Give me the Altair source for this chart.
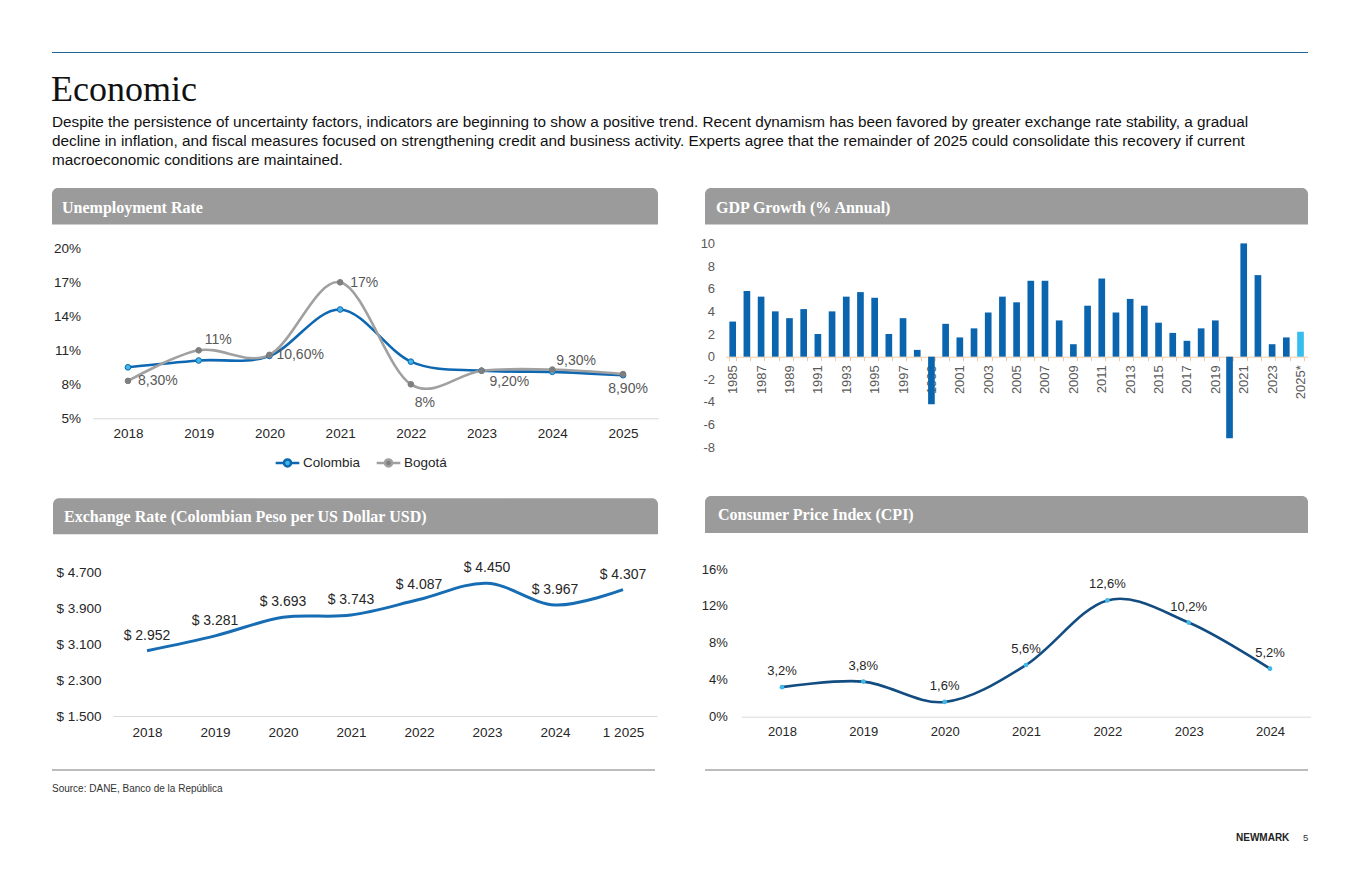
import altair as alt
import pandas as pd

# ---------------- data ----------------
unemp_years = ["2018", "2019", "2020", "2021", "2022", "2023", "2024", "2025"]
unemp_colombia = [9.5, 10.1, 10.5, 14.6, 10.0, 9.2, 9.1, 8.8]
unemp_bogota = [8.3, 11.0, 10.6, 17.0, 8.0, 9.2, 9.3, 8.9]
unemp_bogota_labels = ["8,30%", "11%", "10,60%", "17%", "8%", "9,20%", "9,30%", "8,90%"]
unemp_series = ["Colombia", "Bogotá"]
unemp_ticks = [5, 8, 11, 14, 17, 20]

gdp_years = [
    "1985", "1986", "1987", "1988", "1989", "1990", "1991", "1992", "1993", "1994",
    "1995", "1996", "1997", "1998", "1999", "2000", "2001", "2002", "2003", "2004",
    "2005", "2006", "2007", "2008", "2009", "2010", "2011", "2012", "2013", "2014",
    "2015", "2016", "2017", "2018", "2019", "2020", "2021", "2022", "2023", "2024",
    "2025*",
]
gdp_growth = [
    3.1, 5.8, 5.3, 4.0, 3.4, 4.2, 2.0, 4.0, 5.3, 5.7,
    5.2, 2.0, 3.4, 0.6, -4.2, 2.9, 1.7, 2.5, 3.9, 5.3,
    4.8, 6.7, 6.7, 3.2, 1.1, 4.5, 6.9, 3.9, 5.1, 4.5,
    3.0, 2.1, 1.4, 2.5, 3.2, -7.2, 10.0, 7.2, 1.1, 1.7,
    2.2,
]
gdp_ticks = [-8, -6, -4, -2, 0, 2, 4, 6, 8, 10]

fx_periods = ["2018", "2019", "2020", "2021", "2022", "2023", "2024", "1 2025"]
fx_rate = [2952, 3281, 3693, 3743, 4087, 4450, 3967, 4307]
fx_ticks = [1500, 2300, 3100, 3900, 4700]

cpi_years = ["2018", "2019", "2020", "2021", "2022", "2023", "2024"]
cpi_values = [3.2, 3.8, 1.6, 5.6, 12.6, 10.2, 5.2]
cpi_ticks = [0, 4, 8, 12, 16]

title_text = "Economic"
paragraph = [
    "Despite the persistence of uncertainty factors, indicators are beginning to show a positive trend. Recent dynamism has been favored by greater exchange rate stability, a gradual",
    "decline in inflation, and fiscal measures focused on strengthening credit and business activity. Experts agree that the remainder of 2025 could consolidate this recovery if current",
    "macroeconomic conditions are maintained.",
]
panel_titles = [
    "Unemployment Rate",
    "GDP Growth (% Annual)",
    "Exchange Rate (Colombian Peso per US Dollar USD)",
    "Consumer Price Index (CPI)",
]
source_text = "Source: DANE, Banco de la República"

# ---------------- layout / style ----------------
M = 8
W, H = 1344, 864
FONT = "Liberation Sans"
SERIF = "Liberation Serif"


def P(v):
    return v - M


def bottom_off(y_page):
    return P(y_page) - H


BLUE = "#0e67b1"
LBLUE = "#41b8e8"
GREY = "#a0a0a0"
DGREY = "#7f7f7f"
BAR = "#0a65ae"
BAR_LAST = "#35bdee"
FXBLUE = "#176db4"
NAVY = "#124c80"
HEADER_GREY = "#9b9b9b"
TXT = "#262626"
TXT_GREY = "#595959"
TAN = "#f2cba6"
AXIS_GREY = "#d9d9d9"

one = pd.DataFrame({"d": [0]})

# ---------------- unemployment ----------------
UX = [P(92.6), P(658.4)]
UY = [P(418.3), P(248.3)]
unemp_df = pd.DataFrame({
    "year": unemp_years * 2,
    "series": [unemp_series[0]] * len(unemp_years) + [unemp_series[1]] * len(unemp_years),
    "rate": unemp_colombia + unemp_bogota,
})
bog_df = pd.DataFrame({"year": unemp_years, "rate": unemp_bogota, "label": unemp_bogota_labels})

ux = alt.X("year:O", sort=None,
           scale=alt.Scale(type="point", padding=0.5, range=UX),
           axis=alt.Axis(orient="bottom", offset=bottom_off(418.3), labelAngle=0, ticks=False,
                         domainColor=AXIS_GREY, labelPadding=8, labelFontSize=13.5,
                         labelColor=TXT, title=None))
uy = alt.Y("rate:Q",
           scale=alt.Scale(domain=[5, 20], range=UY, nice=False),
           axis=alt.Axis(orient="left", offset=-UX[0], values=unemp_ticks,
                         labelExpr="datum.value + '%'", domain=False, ticks=False,
                         labelPadding=12, labelFontSize=13.5, labelColor=TXT, title=None))
ucolor = alt.Color("series:N", scale=alt.Scale(domain=unemp_series, range=[BLUE, GREY]),
                   legend=alt.Legend(orient="none", legendX=P(274), legendY=P(449),
                                     direction="horizontal", title=None,
                                     symbolType="M-1,0H-0.3M0.3,0H1M-0.3,0A0.3,0.3 0 1,0 0.3,0A0.3,0.3 0 1,0 -0.3,0",
                                     symbolSize=560, symbolStrokeWidth=2.5,
                                     labelFont=FONT, labelFontSize=13.5, labelColor=TXT,
                                     columnPadding=10, labelOffset=2, padding=0))

u_line_col = alt.Chart(unemp_df).transform_filter(alt.datum.series == unemp_series[0]).mark_line(
    interpolate="cardinal", strokeWidth=2.6).encode(x=ux, y=uy, color=ucolor)
u_line_bog = alt.Chart(unemp_df).transform_filter(alt.datum.series == unemp_series[1]).mark_line(
    interpolate="cardinal", strokeWidth=2.6).encode(x=ux, y=uy, color=ucolor)
u_pts = alt.Chart(unemp_df).mark_circle(size=32, opacity=1, strokeWidth=1).encode(
    x=ux, y=uy,
    fill=alt.Fill("series:N", scale=alt.Scale(domain=unemp_series, range=[LBLUE, DGREY]), legend=None),
    stroke=alt.Stroke("series:N", scale=alt.Scale(domain=unemp_series, range=[BLUE, DGREY]), legend=None),
)
# label placement styles (dx, dy, align) per Bogotá label
label_styles = [(10, 0, "left"), (6, -10, "left"), (7, 0, "left"), (10, 1, "left"),
                (14, 19, "center"), (8, 11, "left"), (4, -9, "left"), (5, 15, "center")]
u_labels = []
for yr, (dx, dy, al) in zip(unemp_years, label_styles):
    u_labels.append(
        alt.Chart(bog_df).transform_filter(alt.datum.year == yr).mark_text(
            dx=dx, dy=dy, align=al, baseline="middle", font=FONT, fontSize=14, color=TXT_GREY
        ).encode(x=ux, y=uy, text="label:N")
    )
unemp_panel = alt.layer(u_line_col, u_line_bog, u_pts, *u_labels)

# ---------------- GDP ----------------
GX = [P(725.6), P(1307.6)]
GY = [P(447.3), P(243.4)]
gdp_df = pd.DataFrame({"year": gdp_years, "growth": gdp_growth})
gx = alt.X("year:O", sort=None,
           scale=alt.Scale(type="band", range=GX, paddingInner=0.53, paddingOuter=0.265),
           axis=alt.Axis(orient="bottom", offset=bottom_off(356.7), labelAngle=270,
                         labelExpr="(parseInt(datum.value) - 1985) % 2 == 0 ? datum.value : ''",
                         tickBand="extent", tickSize=4, tickColor=TAN, domainColor=TAN,
                         labelColor=TXT_GREY, labelFontSize=13, labelPadding=4,
                         labelOverlap=False, title=None))
gy = alt.Y("growth:Q",
           scale=alt.Scale(domain=[-8, 10], range=GY, nice=False),
           axis=alt.Axis(orient="left", offset=-GX[0], values=gdp_ticks, domain=False, ticks=False,
                         labelExpr="datum.value < 0 ? '-' + abs(datum.value) : '' + datum.value",
                         labelPadding=11, labelFontSize=13, labelColor=TXT_GREY, title=None))
gdp_bars = alt.Chart(gdp_df).mark_bar().encode(
    x=gx, y=gy, y2=alt.datum(0),
    color=alt.condition(alt.datum.year == gdp_years[-1], alt.value(BAR_LAST), alt.value(BAR)),
)

# ---------------- Exchange rate ----------------
FXX = [P(113), P(657)]
FXY = [P(716), P(572)]
fx_df = pd.DataFrame({
    "period": fx_periods,
    "rate": fx_rate,
    "label": ["$ " + f"{v:,}".replace(",", ".") for v in fx_rate],
})
fxx = alt.X("period:O", sort=None,
            scale=alt.Scale(type="point", padding=0.5, range=FXX),
            axis=alt.Axis(orient="bottom", offset=bottom_off(716), labelAngle=0, ticks=False,
                          domainColor=AXIS_GREY, labelPadding=9, labelFontSize=13.5,
                          labelColor=TXT, title=None))
fxy = alt.Y("rate:Q",
            scale=alt.Scale(domain=[1500, 4700], range=FXY, nice=False, zero=False),
            axis=alt.Axis(orient="left", offset=-FXX[0], values=fx_ticks,
                          labelExpr="'$ ' + replace(format(datum.value, ','), ',', '.')",
                          domain=False, ticks=False, labelPadding=12, labelFontSize=13.5,
                          labelColor=TXT, title=None))
fx_line = alt.Chart(fx_df).mark_line(interpolate="cardinal", strokeWidth=3, color=FXBLUE).encode(x=fxx, y=fxy)
fx_text = alt.Chart(fx_df).mark_text(dy=-15, font=FONT, fontSize=14, color=TXT).encode(x=fxx, y=fxy, text="label:N")
fx_panel = alt.layer(fx_line, fx_text)

# ---------------- CPI ----------------
CX = [P(741.3), P(1310.7)]
CY = [P(716.7), P(569)]
cpi_df = pd.DataFrame({
    "year": cpi_years,
    "cpi": cpi_values,
    "label": [f"{v:.1f}%".replace(".", ",") for v in cpi_values],
})
cx = alt.X("year:O", sort=None,
           scale=alt.Scale(type="point", padding=0.5, range=CX),
           axis=alt.Axis(orient="bottom", offset=bottom_off(716.7), labelAngle=0, ticks=False,
                         domainColor=AXIS_GREY, labelPadding=9, labelFontSize=13,
                         labelColor=TXT, title=None))
cy = alt.Y("cpi:Q",
           scale=alt.Scale(domain=[0, 16], range=CY, nice=False),
           axis=alt.Axis(orient="left", offset=-CX[0], values=cpi_ticks,
                         labelExpr="datum.value + '%'", domain=False, ticks=False,
                         labelPadding=14, labelFontSize=13, labelColor=TXT, title=None))
cpi_line = alt.Chart(cpi_df).mark_line(interpolate="cardinal", strokeWidth=2.6, color=NAVY).encode(x=cx, y=cy)
cpi_pts = alt.Chart(cpi_df).mark_circle(size=22, opacity=1, color=LBLUE).encode(x=cx, y=cy)
cpi_text = alt.Chart(cpi_df).mark_text(dy=-16, font=FONT, fontSize=13, color=TXT).encode(x=cx, y=cy, text="label:N")
cpi_panel = alt.layer(cpi_line, cpi_pts, cpi_text)

# ---------------- decorations ----------------
deco = []
deco.append(alt.Chart(one).mark_rule(color="#1f6396", strokeWidth=1.2).encode(
    x=alt.value(P(52)), x2=alt.value(P(1308)), y=alt.value(P(52.5))))
for x0, x1 in [(52, 655), (705, 1308)]:
    deco.append(alt.Chart(one).mark_rule(color="#a6a6a6", strokeWidth=1.5).encode(
        x=alt.value(P(x0)), x2=alt.value(P(x1)), y=alt.value(P(770))))

boxes = [(52, 658, 188, 224.5), (705, 1308, 188, 224.5), (53, 658, 498.3, 534.3), (705, 1308, 496, 533)]
title_pos = [(62, 208), (716, 208), (64, 517), (718, 515)]
for (x0, x1, y0, y1), (tx, ty), t in zip(boxes, title_pos, panel_titles):
    deco.append(alt.Chart(one).mark_rect(color=HEADER_GREY, cornerRadiusTopLeft=6, cornerRadiusTopRight=6).encode(
        x=alt.value(P(x0)), x2=alt.value(P(x1)), y=alt.value(P(y0)), y2=alt.value(P(y1))))
    deco.append(alt.Chart(one).mark_text(align="left", baseline="middle", font=SERIF, fontSize=16,
                                         fontWeight="bold", color="white").encode(
        x=alt.value(P(tx)), y=alt.value(P(ty)), text=alt.value(t)))

deco.append(alt.Chart(one).mark_text(align="left", baseline="alphabetic", font=SERIF, fontSize=36,
                                     color="#111111").encode(
    x=alt.value(P(51)), y=alt.value(P(101)), text=alt.value(title_text)))
deco.append(alt.Chart(one).mark_text(align="left", baseline="alphabetic", font=FONT, fontSize=15.3,
                                     lineHeight=19, color="#111111").encode(
    x=alt.value(P(52)), y=alt.value(P(127)), text=alt.value(paragraph)))
deco.append(alt.Chart(one).mark_text(align="left", baseline="middle", font=FONT, fontSize=10,
                                     color="#333333").encode(
    x=alt.value(P(52)), y=alt.value(P(789)), text=alt.value(source_text)))
deco.append(alt.Chart(one).mark_text(align="left", baseline="middle", font=FONT, fontSize=10,
                                     fontWeight="bold", color="#222222").encode(
    x=alt.value(P(1236)), y=alt.value(P(838)), text=alt.value("NEWMARK")))
deco.append(alt.Chart(one).mark_text(align="left", baseline="middle", font=FONT, fontSize=9.5,
                                     color="#333333").encode(
    x=alt.value(P(1303)), y=alt.value(P(838)), text=alt.value("5")))

chart = alt.layer(
    *deco, unemp_panel, gdp_bars, fx_panel, cpi_panel
).resolve_scale(
    x="independent", y="independent"
).properties(
    width=W, height=H, padding=0, autosize=alt.AutoSizeParams(type="none")
).configure_view(
    strokeWidth=0
).configure_axis(
    grid=False, labelFont=FONT
)

chart.save("out.html", embed_options={"renderer": "svg", "actions": False})
